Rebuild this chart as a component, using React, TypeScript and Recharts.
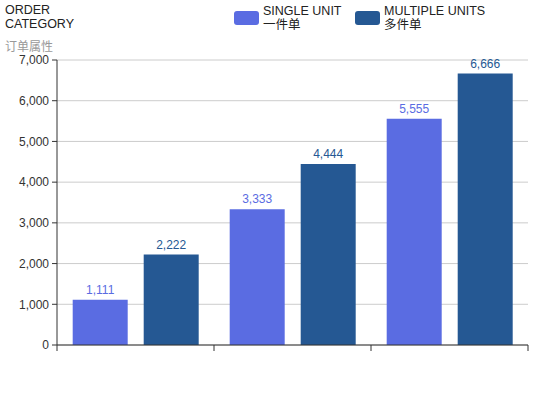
import React from "react"
import { Bar, BarChart, CartesianGrid, LabelList, XAxis, YAxis } from "recharts"

const categories = ["A", "B", "C"]
const singleUnit = [1111, 3333, 5555]
const multipleUnits = [2222, 4444, 6666]
const yTicks = [0, 1000, 2000, 3000, 4000, 5000, 6000, 7000]
const xEdgeTicks = [0, 1, 2, 3]

const series = [
  { key: "single", en: "SINGLE UNIT", zh: "一件单", color: "#5a6ce2" },
  { key: "multiple", en: "MULTIPLE UNITS", zh: "多件单", color: "#255893" },
]

const data = categories.map((name, i) => ({
  name,
  pos: i + 0.5,
  single: singleUnit[i],
  multiple: multipleUnits[i],
}))

const font = "Helvetica, Arial, 'Liberation Sans', 'Noto Sans CJK SC', sans-serif"
const fmt = (v: number) => v.toLocaleString("en-US")

export default function App() {
  return (
    <div style={{ position: "absolute", left: 0, top: 0, width: 550, height: 420, fontFamily: font, background: "#fff" }}>
      <div style={{ position: "absolute", left: 5, top: 3, fontSize: 12.5, lineHeight: "14px", color: "#222" }}>
        ORDER
        <br />
        CATEGORY
      </div>
      <div style={{ position: "absolute", left: 5, top: 37, fontSize: 12, color: "#999" }}>订单属性</div>
      <div style={{ position: "absolute", left: 234, top: 4, display: "flex" }}>
        {series.map((s) => (
          <div key={s.key} style={{ display: "flex", alignItems: "flex-start", width: s.key === "single" ? 121 : 160 }}>
            <div style={{ width: 25, height: 14, borderRadius: 3, background: s.color, marginTop: 7, marginRight: 4 }} />
            <div style={{ fontSize: 12.5, lineHeight: "14px", color: "#222" }}>
              {s.en}
              <br />
              {s.zh}
            </div>
          </div>
        ))}
      </div>
      <BarChart
        width={550}
        height={420}
        data={data}
        margin={{ top: 60, right: 22, bottom: 45, left: 0 }}
        barCategoryGap="10%"
        barGap={16}
      >
        <CartesianGrid vertical={false} stroke="#ccc" />
        <XAxis xAxisId="cat" dataKey="name" hide height={0} />
        <XAxis
          xAxisId="edge"
          dataKey="pos"
          type="number"
          domain={[0, 3]}
          ticks={xEdgeTicks}
          interval={0}
          tickFormatter={() => ""}
          tickSize={6}
          height={30}
          stroke="#333"
          allowDataOverflow
        />
        <YAxis
          width={57}
          domain={[0, 7000]}
          ticks={yTicks}
          tickFormatter={fmt}
          tickSize={5}
          tickMargin={3}
          stroke="#333"
          tick={{ fill: "#333", fontSize: 12, fontFamily: font }}
        />
        {series.map((s) => (
          <Bar key={s.key} xAxisId="cat" dataKey={s.key} fill={s.color} isAnimationActive={false}>
            <LabelList
              dataKey={s.key}
              position="top"
              offset={6}
              formatter={(v: any) => fmt(Number(v))}
              style={{ fill: s.color, fontSize: 12, fontFamily: font }}
            />
          </Bar>
        ))}
      </BarChart>
    </div>
  )
}
